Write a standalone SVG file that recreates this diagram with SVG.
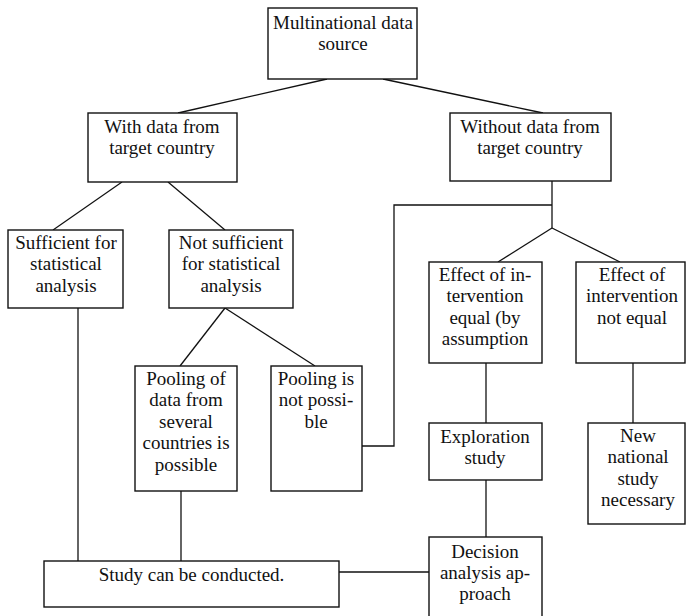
<svg xmlns="http://www.w3.org/2000/svg" width="686" height="616" viewBox="0 0 686 616">
<style>
.box{fill:#fff;stroke:#111;stroke-width:1.4}
.ln{stroke:#111;stroke-width:1.3;fill:none}
.t{font-family:'Liberation Serif',Tinos,'Times New Roman',Times,'Noto Serif','DejaVu Serif',FreeSerif,serif;font-size:19px;fill:#111;text-anchor:middle}
</style>
<rect width="686" height="616" fill="#fff"/>
<g id="connectors">
<line class="ln" x1="327" y1="79" x2="178" y2="113"/>
<line class="ln" x1="383" y1="79" x2="543" y2="113"/>
<line class="ln" x1="122" y1="182" x2="53" y2="230"/>
<line class="ln" x1="168" y1="182" x2="225" y2="230"/>
<line class="ln" x1="225" y1="308" x2="180" y2="366"/>
<line class="ln" x1="225" y1="308" x2="315" y2="366"/>
<line class="ln" x1="552" y1="181" x2="552" y2="228"/>
<line class="ln" x1="552" y1="228" x2="498" y2="262"/>
<line class="ln" x1="552" y1="228" x2="620" y2="262"/>
<polyline class="ln" points="552,205 394,205 394,446 362,446"/>
<line class="ln" x1="78" y1="308" x2="78" y2="561"/>
<line class="ln" x1="181" y1="491" x2="181" y2="561"/>
<line class="ln" x1="486" y1="363" x2="486" y2="423"/>
<line class="ln" x1="486" y1="480" x2="486" y2="537"/>
<line class="ln" x1="633" y1="363" x2="633" y2="423"/>
<line class="ln" x1="339" y1="572" x2="429" y2="572"/>
</g>
<g id="n-source" class="t">
<rect class="box" x="268" y="8" width="149" height="71"/>
<text x="343" y="29">Multinational data</text>
<text x="343" y="50">source</text>
</g>
<g id="n-with" class="t">
<rect class="box" x="88" y="113" width="149" height="69"/>
<text x="162" y="133">With data from</text>
<text x="162" y="154">target country</text>
</g>
<g id="n-without" class="t">
<rect class="box" x="450" y="113" width="161" height="68"/>
<text x="530" y="133">Without data from</text>
<text x="530" y="154">target country</text>
</g>
<g id="n-sufficient" class="t">
<rect class="box" x="8" y="230" width="115" height="78"/>
<text x="66" y="249">Sufficient for</text>
<text x="66" y="270">statistical</text>
<text x="66" y="292">analysis</text>
</g>
<g id="n-notsufficient" class="t">
<rect class="box" x="169" y="230" width="124" height="78"/>
<text x="231" y="249">Not sufficient</text>
<text x="231" y="270">for statistical</text>
<text x="231" y="292">analysis</text>
</g>
<g id="n-pooling" class="t">
<rect class="box" x="135" y="366" width="102" height="125"/>
<text x="186" y="385">Pooling of</text>
<text x="186" y="406">data from</text>
<text x="186" y="428">several</text>
<text x="186" y="449">countries is</text>
<text x="186" y="471">possible</text>
</g>
<g id="n-nopooling" class="t">
<rect class="box" x="271" y="366" width="91" height="125"/>
<text x="316" y="385">Pooling is</text>
<text x="316" y="406">not possi-</text>
<text x="316" y="428">ble</text>
</g>
<g id="n-equal" class="t">
<rect class="box" x="429" y="262" width="113" height="101"/>
<text x="485" y="281">Effect of in-</text>
<text x="485" y="302">tervention</text>
<text x="485" y="324">equal (by</text>
<text x="485" y="345">assumption</text>
</g>
<g id="n-notequal" class="t">
<rect class="box" x="576" y="262" width="109" height="101"/>
<text x="632" y="281">Effect of</text>
<text x="632" y="302">intervention</text>
<text x="632" y="324">not equal</text>
</g>
<g id="n-exploration" class="t">
<rect class="box" x="429" y="423" width="113" height="57"/>
<text x="485" y="443">Exploration</text>
<text x="485" y="464">study</text>
</g>
<g id="n-national" class="t">
<rect class="box" x="588" y="423" width="97" height="101"/>
<text x="638" y="442">New</text>
<text x="638" y="463">national</text>
<text x="638" y="485">study</text>
<text x="638" y="506">necessary</text>
</g>
<g id="n-study" class="t">
<rect class="box" x="44" y="561" width="295" height="46"/>
<text x="191.5" y="581">Study can be conducted.</text>
</g>
<g id="n-decision" class="t">
<rect class="box" x="429" y="537" width="113" height="90"/>
<text x="485" y="558">Decision</text>
<text x="485" y="579">analysis ap-</text>
<text x="485" y="600">proach</text>
</g>
</svg>
